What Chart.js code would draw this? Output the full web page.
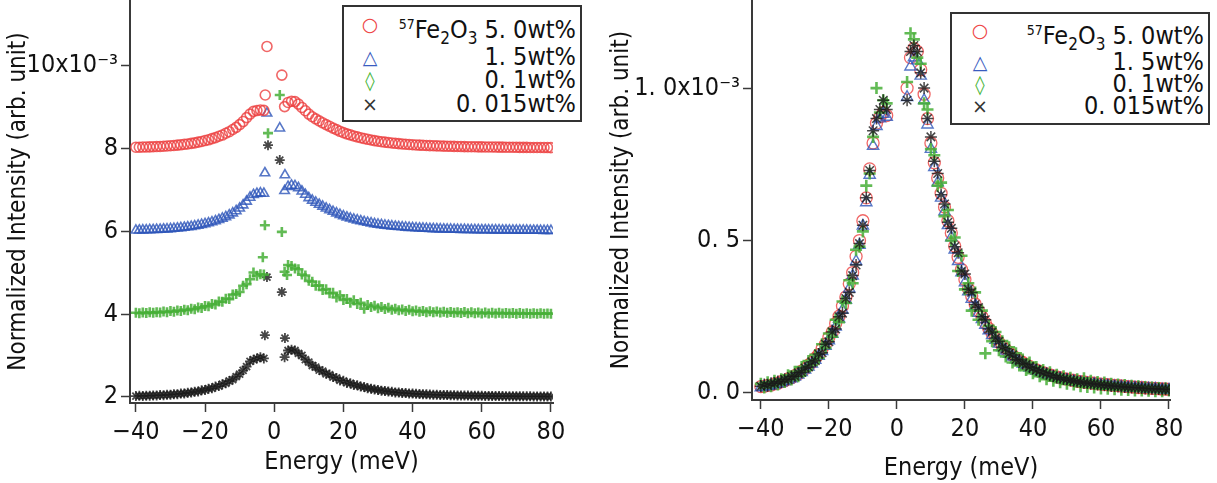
<!DOCTYPE html>
<html>
<head>
<meta charset="utf-8">
<script src="https://cdn.jsdelivr.net/npm/chart.js@4.4.0/dist/chart.umd.min.js"></script>
<style>
  body { margin: 0; background: #fff; width: 1217px; height: 483px; position: relative; overflow: hidden;
         font-family: 'Liberation Sans Narrow', 'DejaVu Sans Condensed', sans-serif; color: #111; }
  #leftChart { position: absolute; left: 0; top: 0; }
  #rightChart { position: absolute; left: 607px; top: 0; }
  .legend { position: absolute; border: 2px solid #333; background: #fff; box-sizing: border-box; }
  .row { position: absolute; left: 0; right: 0; height: 24px; }
  .mark { position: absolute; width: 24px; text-align: center; font-family: 'DejaVu Sans', sans-serif; font-size: 19px; line-height: 24px; }
  .txt { position: absolute; right: 4px; font-size: 25px; line-height: 24px; white-space: pre; }
  .txt sup { font-size: 14px; vertical-align: 9px; }
  .txt sub { font-size: 17px; vertical-align: -6px; }
</style>
</head>
<body>
<canvas id="leftChart" width="610" height="483"></canvas>
<canvas id="rightChart" width="610" height="483"></canvas>

<div class="legend" id="legendLeft" style="left:342px; top:5px; width:240px; height:117px;"></div>
<div class="legend" id="legendRight" style="left:950px; top:12px; width:260px; height:113px;"></div>

<script>
// Energy grid (meV), elastic region removed
const energy = [-40,-39,-38,-37,-36,-35,-34,-33,-32,-31,-30,-29,-28,-27,-26,-25,-24,-23,-22,-21,-20,-19,-18,-17,-16,-15,-14,-13,-12,-11,-10,-9,-8,-7,-6,-5,-4,-3,
  3,4,5,6,7,8,9,10,11,12,13,14,15,16,17,18,19,20,21,22,23,24,25,26,27,28,29,30,31,32,33,34,35,36,37,38,39,40,
  41,42,43,44,45,46,47,48,49,50,51,52,53,54,55,56,57,58,59,60,61,62,63,64,65,66,67,68,69,70,71,72,73,74,75,76,77,78,79,80];

// Normalized intensity (x10^-3)
const fe5_0 = [0.021,0.022,0.025,0.026,0.030,0.032,0.037,0.040,0.046,0.050,0.057,0.062,0.072,0.079,0.091,0.100,0.114,0.126,0.145,0.160,
  0.182,0.200,0.228,0.252,0.285,0.315,0.358,0.395,0.448,0.50,0.565,0.64,0.735,0.82,0.885,0.905,0.92,0.91,
  1.00,1.10,1.13,1.12,1.06,0.98,0.90,0.82,0.755,0.705,0.655,0.61,0.565,0.525,0.482,0.445,0.405,0.372,
  0.342,0.318,0.292,0.27,0.25,0.23,0.212,0.195,0.18,0.166,0.154,0.143,0.133,0.124,0.115,0.107,0.100,0.093,0.087,0.081,
  0.076,0.071,0.067,0.063,0.059,0.056,0.053,0.050,0.047,0.045,0.043,0.041,0.039,0.037,0.036,0.034,0.033,0.032,0.030,0.029,
  0.028,0.027,0.026,0.025,0.024,0.023,0.022,0.021,0.020,0.019,0.018,0.018,0.017,0.016,0.015,0.015,0.014,0.013,0.013,0.012];

const fe1_5 = [0.018,0.020,0.022,0.024,0.027,0.030,0.034,0.038,0.043,0.047,0.053,0.060,0.068,0.076,0.086,0.096,0.108,0.121,0.137,0.154,
  0.172,0.193,0.217,0.243,0.272,0.305,0.342,0.384,0.432,0.485,0.548,0.625,0.715,0.81,0.875,0.90,0.915,0.905,
  0.97,1.07,1.10,1.09,1.04,0.96,0.88,0.80,0.74,0.69,0.64,0.595,0.55,0.51,0.47,0.432,0.395,0.362,
  0.333,0.308,0.284,0.262,0.242,0.223,0.205,0.189,0.174,0.161,0.149,0.138,0.128,0.119,0.110,0.103,0.096,0.089,0.083,0.078,
  0.073,0.068,0.064,0.060,0.056,0.053,0.050,0.047,0.044,0.042,0.040,0.038,0.036,0.034,0.033,0.031,0.030,0.029,0.027,0.026,
  0.025,0.024,0.023,0.022,0.021,0.020,0.019,0.018,0.018,0.017,0.016,0.015,0.015,0.014,0.013,0.013,0.012,0.011,0.011,0.010];

const fe0_1 = [0.030,0.018,0.035,0.022,0.040,0.028,0.045,0.036,0.058,0.044,0.070,0.055,0.085,0.072,0.105,0.092,0.125,0.115,0.160,0.148,
  0.195,0.185,0.240,0.232,0.300,0.295,0.370,0.360,0.470,0.480,0.530,0.68,0.72,0.84,1.00,0.92,0.96,0.95,
  1.02,1.18,1.16,1.10,1.08,0.95,0.93,0.80,0.78,0.68,0.69,0.58,0.60,0.50,0.51,0.40,0.45,0.34,
  0.36,0.27,0.33,0.24,0.27,0.13,0.22,0.17,0.20,0.14,0.17,0.12,0.15,0.10,0.13,0.09,0.11,0.075,0.10,0.065,
  0.085,0.055,0.075,0.045,0.068,0.040,0.060,0.035,0.055,0.030,0.050,0.028,0.045,0.022,0.048,0.020,0.040,0.018,0.036,0.015,
  0.034,0.014,0.030,0.012,0.028,0.011,0.026,0.010,0.024,0.008,0.022,0.008,0.020,0.007,0.018,0.006,0.016,0.006,0.015,0.008];

const fe0_015 = [0.022,0.028,0.024,0.032,0.030,0.038,0.036,0.045,0.044,0.054,0.055,0.066,0.068,0.082,0.085,0.102,0.106,0.128,0.132,0.160,
  0.168,0.200,0.210,0.250,0.262,0.310,0.330,0.385,0.420,0.49,0.55,0.64,0.73,0.86,0.90,0.93,0.96,0.93,
  0.96,1.12,1.14,1.12,1.05,1.00,0.90,0.84,0.76,0.72,0.65,0.62,0.56,0.54,0.48,0.46,0.40,0.39,
  0.34,0.33,0.29,0.28,0.25,0.24,0.21,0.20,0.18,0.17,0.15,0.145,0.13,0.125,0.11,0.108,0.097,0.094,0.085,0.082,
  0.075,0.072,0.066,0.064,0.058,0.056,0.051,0.050,0.046,0.045,0.041,0.040,0.037,0.036,0.033,0.033,0.030,0.030,0.028,0.027,
  0.025,0.025,0.023,0.023,0.021,0.021,0.020,0.019,0.018,0.018,0.017,0.016,0.015,0.015,0.014,0.014,0.013,0.012,0.012,0.011];

// Vertical offsets used in the left panel (x10^-3)
const offsets = [8, 6, 4, 2];

// Residual points near the elastic line, left panel (absolute, x10^-3)
const spikeE_5_0 = [-2.1, 2.2, -2.6];
const spikeV_5_0 = [10.45, 9.76, 9.28];
const spikeE_1_5 = [-2.1, 1.6, -2.7, 3.1];
const spikeV_1_5 = [8.84, 8.48, 7.40, 7.35];
const spikeE_0_1 = [1.6, -1.8, -2.7, 2.2, -3.3, 3.7];
const spikeV_0_1 = [9.28, 8.36, 6.14, 5.98, 5.37, 4.94];
const spikeE_0_015 = [-1.8, 1.6, -2.1, 2.2, -2.7, 3.1];
const spikeV_0_015 = [8.07, 7.71, 4.89, 4.53, 3.49, 3.42];

// Axis ticks
const xTicks = [-40, -20, 0, 20, 40, 60, 80];
const xTickLabels = ['\u221240', '\u221220', '0', '20', '40', '60', '80'];
const leftYTicks = [2, 4, 6, 8, 10];
const leftYTickLabels = ['2', '4', '6', '8', '10x10\u207B\u00B3'];
const rightYTicks = [0, 0.5, 1.0];
const rightYTickLabels = ['0. 0', '0. 5', '1. 0x10\u207B\u00B3'];

const seriesNames = ['5. 0wt%', '1. 5wt%', '0. 1wt%', '0. 015wt%'];
const seriesValues = [fe5_0, fe1_5, fe0_1, fe0_015];
const spikeEs = [spikeE_5_0, spikeE_1_5, spikeE_0_1, spikeE_0_015];
const spikeVs = [spikeV_5_0, spikeV_1_5, spikeV_0_1, spikeV_0_015];

// Marker styles
const colors = ['rgba(236,64,64,0.8)', 'rgba(45,85,185,0.8)', 'rgba(70,175,55,0.85)', 'rgba(25,25,25,0.8)'];
const pointStyles = ['circle', 'triangle', 'cross', 'star'];
const leftBorderWidths = [1.6, 1.6, 2.6, 1.8];
const rightBorderWidths = [1.3, 1.4, 2.6, 1.5];
const leftRadius = [5, 5.5, 5, 5];
const rightRadius = [6, 6.5, 6, 6];
const legendGlyphs = ['\u25CB', '\u25B3', '\u25CA', '\u00D7'];
const legendColors = ['#ee4444', '#3a5cc0', '#49b53a', '#333'];

const FONT = "'Liberation Sans Narrow', 'DejaVu Sans Condensed', sans-serif";
const AXIS_COLOR = '#3a3a3a';

function buildPoints(xs, ys, offset) {
  return xs.map((x, i) => ({ x: x, y: ys[i] + offset }));
}

function makeScales(xMin, xMax, yMin, yMax, yTicks, yLabels, yWidth, xHeight, xTitlePad, yTitlePad) {
  const grid = { display: true, drawOnChartArea: false, drawTicks: true, tickLength: 9, tickWidth: 1.5, color: AXIS_COLOR };
  const noPad = (s) => { s.paddingTop = 0; s.paddingBottom = 0; s.paddingLeft = 0; s.paddingRight = 0; };
  return {
    x: {
      type: 'linear', min: xMin, max: xMax,
      afterBuildTicks: (s) => { s.ticks = xTicks.map(v => ({ value: v })); },
      afterFit: (s) => { s.height = xHeight; noPad(s); },
      grid: grid,
      border: { display: true, color: AXIS_COLOR, width: 2 },
      ticks: { color: '#111', font: { family: FONT, size: 25 }, padding: 5, maxRotation: 0, autoSkip: false,
               callback: (v, i) => xTickLabels[i] },
      title: { display: true, text: 'Energy (meV)', color: '#111', font: { family: FONT, size: 25 },
               padding: { top: 0, bottom: xTitlePad } }
    },
    y: {
      type: 'linear', min: yMin, max: yMax,
      afterBuildTicks: (s) => { s.ticks = yTicks.map(v => ({ value: v })); },
      afterFit: (s) => { s.width = yWidth; noPad(s); },
      grid: grid,
      border: { display: true, color: AXIS_COLOR, width: 2 },
      ticks: { color: '#111', font: { family: FONT, size: 25 }, padding: 3, autoSkip: false,
               callback: (v, i) => yLabels[i] },
      title: { display: true, text: 'Normalized Intensity (arb. unit)', color: '#111', font: { family: FONT, size: 24 },
               padding: { top: yTitlePad, bottom: 0 } }
    }
  };
}

// Left panel: offset spectra plus residual elastic points
const leftDatasets = [];
seriesValues.forEach((vals, k) => {
  leftDatasets.push({
    label: seriesNames[k],
    data: buildPoints(energy, vals, offsets[k]),
    showLine: false, pointStyle: pointStyles[k], pointRadius: leftRadius[k],
    borderColor: colors[k], backgroundColor: 'rgba(0,0,0,0)', pointBorderWidth: leftBorderWidths[k]
  });
  leftDatasets.push({
    label: seriesNames[k] + ' elastic',
    data: buildPoints(spikeEs[k], spikeVs[k], 0),
    showLine: false, pointStyle: pointStyles[k], pointRadius: leftRadius[k],
    borderColor: colors[k], backgroundColor: 'rgba(0,0,0,0)', pointBorderWidth: leftBorderWidths[k]
  });
});

new Chart(document.getElementById('leftChart'), {
  type: 'scatter',
  data: { datasets: leftDatasets },
  options: {
    responsive: false, animation: false, devicePixelRatio: 1,
    layout: { autoPadding: false, padding: { left: 0, top: 0, right: 57, bottom: 0 } },
    plugins: { legend: { display: false }, tooltip: { enabled: false } },
    scales: makeScales(-41.7, 80.6, 1.855, 11.57, leftYTicks, leftYTickLabels, 130, 80, 6, 4)
  }
});

// Right panel: overlaid spectra
const rightOrder = [4, 3, 2, 1];
const rightDatasets = seriesValues.map((vals, k) => ({
  label: seriesNames[k],
  data: buildPoints(energy, vals, 0),
  order: rightOrder[k],
  showLine: false, pointStyle: pointStyles[k], pointRadius: rightRadius[k],
  borderColor: colors[k], backgroundColor: 'rgba(0,0,0,0)', pointBorderWidth: rightBorderWidths[k]
}));

new Chart(document.getElementById('rightChart'), {
  type: 'scatter',
  data: { datasets: rightDatasets },
  options: {
    responsive: false, animation: false, devicePixelRatio: 1,
    layout: { autoPadding: false, padding: { left: 0, top: 0, right: 47, bottom: 0 } },
    plugins: { legend: { display: false }, tooltip: { enabled: false } },
    scales: makeScales(-42.6, 80.3, -0.023, 1.289, rightYTicks, rightYTickLabels, 145, 83, 0, 0)
  }
});

// HTML legends (need super/subscripts)
function fillLegend(id, markX, rowTops) {
  const box = document.getElementById(id);
  seriesNames.forEach((name, k) => {
    const row = document.createElement('div');
    row.className = 'row';
    row.style.top = rowTops[k] + 'px';
    const m = document.createElement('div');
    m.className = 'mark';
    m.style.left = (markX - 12) + 'px';
    m.style.color = legendColors[k];
    m.textContent = legendGlyphs[k];
    const t = document.createElement('div');
    t.className = 'txt';
    if (k === 0) {
      t.innerHTML = '<sup>57</sup>Fe<sub>2</sub>O<sub>3</sub> ' + name;
    } else {
      t.textContent = name;
    }
    row.appendChild(m);
    row.appendChild(t);
    box.appendChild(row);
  });
}
fillLegend('legendLeft', 26, [5, 38, 61, 85]);
fillLegend('legendRight', 28, [4, 36, 58, 80]);
</script>
</body>
</html>
